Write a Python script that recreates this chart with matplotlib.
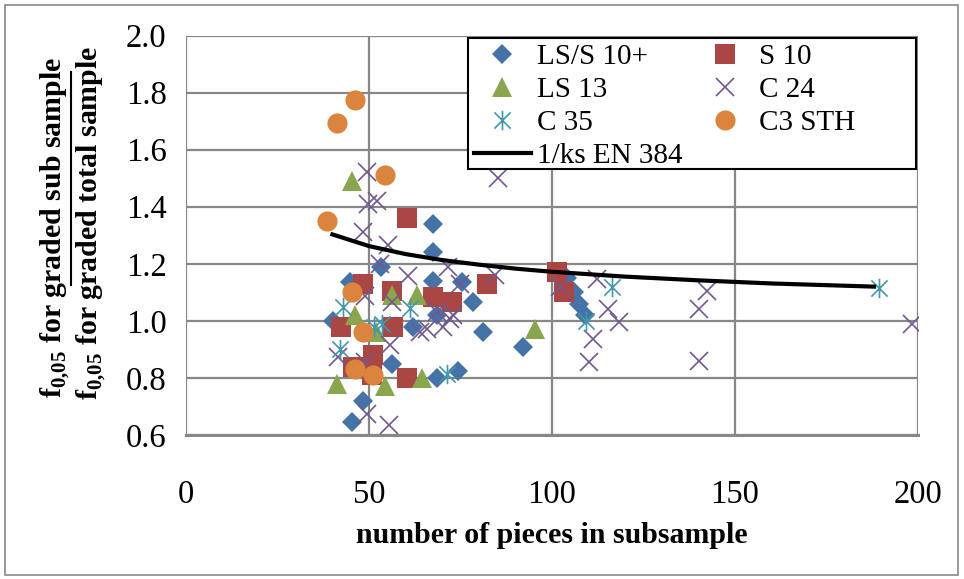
import numpy as np
import matplotlib
matplotlib.use("Agg")
import matplotlib.pyplot as plt
from matplotlib.path import Path
from matplotlib.lines import Line2D
from matplotlib.patches import Rectangle

plt.rcParams['font.family'] = ['Liberation Serif', 'DejaVu Serif']
plt.rcParams['mathtext.fontset'] = 'custom'
plt.rcParams['mathtext.rm'] = 'Liberation Serif:bold'
plt.rcParams['mathtext.bf'] = 'Liberation Serif:bold'

# subsample size (pieces) and ratio f0,05 sub / f0,05 total, per grade
lss10_n = [40.2, 44.8, 53.3, 67.5, 67.5, 67.5, 75.4, 78.4, 68.6, 62.0, 81.1, 92.1,
           56.3, 68.6, 74.3, 48.4, 45.4, 104.0, 106.0, 107.5, 109.0]
lss10_r = [1.00, 1.135, 1.19, 1.34, 1.24, 1.14, 1.135, 1.066, 1.02, 0.98, 0.96, 0.91,
           0.85, 0.80, 0.825, 0.72, 0.645, 1.15, 1.10, 1.06, 1.02]

s10_n = [42.3, 48.4, 56.3, 60.4, 67.5, 72.7, 82.2, 101.4, 103.3, 56.6, 51.1, 45.6,
         50.8, 60.4]
s10_r = [0.98, 1.13, 1.105, 1.36, 1.085, 1.065, 1.13, 1.17, 1.10, 0.98, 0.88, 0.84,
         0.81, 0.80]

ls13_n = [41.3, 45.4, 46.2, 56.3, 63.1, 52.0, 54.4, 64.5, 95.4]
ls13_r = [0.78, 1.49, 1.02, 1.09, 1.09, 0.96, 0.77, 0.80, 0.97]

c24_n = [49.5, 49.7, 52.2, 48.4, 55.2, 85.2, 53.0, 60.7, 71.6, 74.9, 84.4, 49.0,
         56.3, 68.6, 72.0, 70.2, 64.0, 55.7, 41.5, 49.0, 49.5, 55.5, 102.2, 112.3,
         115.3, 118.3, 111.2, 110.1, 142.3, 140.2, 140.2, 198.4, 73.0, 65.8]
c24_r = [1.52, 1.41, 1.42, 1.31, 1.265, 1.50, 1.20, 1.157, 1.19, 1.13, 1.16, 1.087,
         1.066, 1.03, 1.007, 0.98, 0.96, 0.915, 0.875, 0.857, 0.675, 0.635, 1.12, 1.147,
         1.04, 0.997, 0.937, 0.857, 1.105, 1.04, 0.86, 0.99, 1.02, 0.97]

c35_n = [42.9, 42.1, 51.5, 53.6, 61.2, 71.3, 109.3, 116.4, 189.3]
c35_r = [1.05, 0.90, 0.98, 0.99, 1.045, 0.815, 1.00, 1.12, 1.115]

c3sth_n = [38.5, 41.3, 46.2, 54.4, 45.4, 48.4, 46.2, 51.1]
c3sth_r = [1.35, 1.695, 1.775, 1.51, 1.10, 0.96, 0.83, 0.81]

# 1/ks according to EN 384
ks_n = [40, 50, 60, 70, 80, 90, 100, 120, 140, 160, 188]
ks_r = [1.303, 1.262, 1.234, 1.213, 1.197, 1.183, 1.172, 1.155, 1.142, 1.131, 1.120]

W, H = 964, 579
fig = plt.figure(figsize=(W / 100, H / 100), dpi=100)
ax = fig.add_axes([186 / W, 1 - 435 / H, (918 - 186) / W, (435 - 35.5) / H])

# asterisk: two diagonals plus a vertical stroke
star = Path([(-1, -1), (1, 1), (-1, 1), (1, -1), (0, -1.2), (0, 1.2)],
            [Path.MOVETO, Path.LINETO, Path.MOVETO, Path.LINETO, Path.MOVETO, Path.LINETO])

blue, red, green = '#4572A7', '#AA4643', '#89A54E'
purple, teal, orange = '#71588F', '#4198AF', '#DB843D'

h1, = ax.plot(lss10_n, lss10_r, 'D', color=blue, ms=10.5, mew=0, label='LS/S 10+')
h2, = ax.plot(s10_n, s10_r, 's', color=red, ms=14, mew=0, label='S 10')
h3, = ax.plot(ls13_n, ls13_r, '^', color=green, ms=15, mew=0, label='LS 13')
h4, = ax.plot(c24_n, c24_r, 'x', color=purple, ms=13.5, mew=1.2, label='C 24')
h5, = ax.plot(c35_n, c35_r, ls='none', marker=star, color=teal, mfc='none',
              ms=14, mew=1.2, label='C 35')
h6, = ax.plot(c3sth_n, c3sth_r, 'o', color=orange, ms=14.5, mew=0, label='C3 STH')
h7, = ax.plot(ks_n, ks_r, '-', color='black', lw=3, label='1/ks EN 384')

ax.set_xlim(0, 200)
ax.set_ylim(0.6, 2.0)
ax.set_xticks([0, 50, 100, 150, 200])
ax.set_yticks(np.arange(0.6, 2.01, 0.2))
ax.yaxis.set_major_formatter(matplotlib.ticker.FormatStrFormatter('%.1f'))
ax.grid(True, color='#878787', lw=1.6)
ax.set_axisbelow(True)
for side in ['left', 'top', 'right']:
    ax.spines[side].set_visible(False)
ax.spines['bottom'].set_color('#878787')
ax.spines['bottom'].set_linewidth(2.2)
ax.tick_params(axis='x', length=0, pad=32, labelsize=23.5)
ax.tick_params(axis='y', length=0, pad=14, labelsize=23.5)

ax.set_xlabel('number of pieces in subsample', fontsize=21.5, fontweight='bold',
              labelpad=9)

# stacked fraction as the y label
num = r'$\mathbf{f}_{\mathbf{0{,}05}}$ for graded sub sample'
den = r'$\mathbf{f}_{\mathbf{0{,}05}}$ for graded total sample'
fig.text(55 / W, 1 - 398 / H, num, rotation=90, ha='center', va='bottom',
         fontsize=21.5, fontweight='bold')
fig.text(91 / W, 1 - 400 / H, den, rotation=90, ha='center', va='bottom',
         fontsize=21.5, fontweight='bold')
fig.add_artist(Line2D([71 / W, 71 / W], [1 - 285 / H, 1 - 72 / H], color='black',
                      lw=1.5, transform=fig.transFigure))

leg = ax.legend([h1, h3, h5, h7, h2, h4, h6],
                ['LS/S 10+', 'LS 13', 'C 35', '1/ks EN 384', 'S 10', 'C 24', 'C3 STH'],
                ncol=2, loc='upper left', bbox_to_anchor=(468 / W, 1 - 38 / H),
                bbox_transform=fig.transFigure, frameon=False, fontsize=21,
                handlelength=1.95, handletextpad=0.2, columnspacing=0.5,
                labelspacing=0.22, borderpad=0.2, borderaxespad=0)
leg.set_zorder(6)
ax.add_patch(Rectangle((468 / W, 1 - 169 / H), 448 / W, 131 / H, fill=True,
                       facecolor='white', edgecolor='black', lw=1.5,
                       transform=fig.transFigure, clip_on=False, zorder=5))

# outer chart border
fig.add_artist(Rectangle((5 / W, 4 / H), 953 / W, 570 / H, fill=False,
                         edgecolor='#898989', lw=1.2, transform=fig.transFigure))

fig.savefig('out.png', dpi=100)
